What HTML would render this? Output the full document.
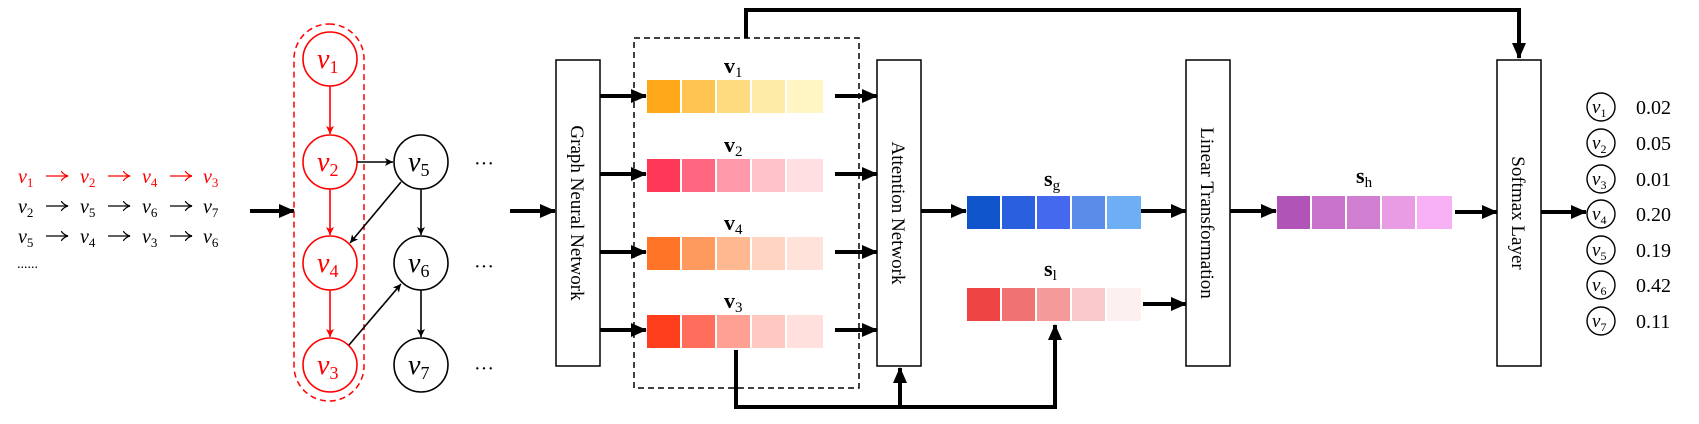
<!DOCTYPE html>
<html><head><meta charset="utf-8"><style>
html,body{margin:0;padding:0;background:#fff;}
svg{display:block;}
text{font-family:"Liberation Serif",serif;}
.v{font-style:italic;}
</style></head><body>
<svg width="1699" height="424" viewBox="0 0 1699 424" xmlns="http://www.w3.org/2000/svg">
<defs>
<marker id="ab" markerWidth="10" markerHeight="10" refX="9" refY="5" orient="auto" markerUnits="userSpaceOnUse"><path d="M0,0 L10,5 L0,10 Z" fill="#000"/></marker>
<marker id="as" markerWidth="8" markerHeight="8" refX="8" refY="4" orient="auto" markerUnits="userSpaceOnUse"><path d="M0,0 L8,4 L0,8 L2,4Z" fill="#000"/></marker>
<marker id="ar" markerWidth="8" markerHeight="8" refX="8" refY="4" orient="auto" markerUnits="userSpaceOnUse"><path d="M0,0 L8,4 L0,8 L2,4Z" fill="#f00"/></marker>
<marker id="sk" markerWidth="8" markerHeight="10" refX="7" refY="5" orient="auto" markerUnits="userSpaceOnUse"><path d="M0,0 Q3,4 7,5 Q3,6 0,10" fill="none" stroke="#000" stroke-width="1.2"/></marker>
<marker id="sr" markerWidth="8" markerHeight="10" refX="7" refY="5" orient="auto" markerUnits="userSpaceOnUse"><path d="M0,0 Q3,4 7,5 Q3,6 0,10" fill="none" stroke="#f00" stroke-width="1.2"/></marker>
<marker id="big" markerWidth="16" markerHeight="14" refX="15" refY="7" orient="auto" markerUnits="userSpaceOnUse"><path d="M0,0 L16,7 L0,14 Z" fill="#000"/></marker>
</defs>

<!-- sequences -->
<g font-size="20">
<g fill="#f00">
<text x="18" y="183" class="v">v<tspan font-size="13" dy="4" font-style="normal">1</tspan></text>
<text x="80" y="183" class="v">v<tspan font-size="13" dy="4" font-style="normal">2</tspan></text>
<text x="142" y="183" class="v">v<tspan font-size="13" dy="4" font-style="normal">4</tspan></text>
<text x="203" y="183" class="v">v<tspan font-size="13" dy="4" font-style="normal">3</tspan></text>
</g>
<g fill="#000">
<text x="18" y="213" class="v">v<tspan font-size="13" dy="4" font-style="normal">2</tspan></text>
<text x="80" y="213" class="v">v<tspan font-size="13" dy="4" font-style="normal">5</tspan></text>
<text x="142" y="213" class="v">v<tspan font-size="13" dy="4" font-style="normal">6</tspan></text>
<text x="203" y="213" class="v">v<tspan font-size="13" dy="4" font-style="normal">7</tspan></text>
<text x="18" y="243" class="v">v<tspan font-size="13" dy="4" font-style="normal">5</tspan></text>
<text x="80" y="243" class="v">v<tspan font-size="13" dy="4" font-style="normal">4</tspan></text>
<text x="142" y="243" class="v">v<tspan font-size="13" dy="4" font-style="normal">3</tspan></text>
<text x="203" y="243" class="v">v<tspan font-size="13" dy="4" font-style="normal">6</tspan></text>
<text x="17" y="268" font-size="14">......</text>
</g>
</g>
<g stroke-width="1.3">
<g stroke="#f00" marker-end="url(#sr)"><line x1="46" y1="176" x2="68" y2="176"/><line x1="108" y1="176" x2="130" y2="176"/><line x1="170" y1="176" x2="192" y2="176"/></g>
<g stroke="#000" marker-end="url(#sk)"><line x1="46" y1="206" x2="68" y2="206"/><line x1="108" y1="206" x2="130" y2="206"/><line x1="170" y1="206" x2="192" y2="206"/>
<line x1="46" y1="236" x2="68" y2="236"/><line x1="108" y1="236" x2="130" y2="236"/><line x1="170" y1="236" x2="192" y2="236"/></g>
</g>

<line x1="250" y1="211" x2="294" y2="211" stroke="#000" stroke-width="4" marker-end="url(#big)"/>

<!-- graph -->
<rect x="294" y="24" width="70" height="377" rx="35" fill="none" stroke="#f00" stroke-width="1.5" stroke-dasharray="6,4"/>
<g fill="none" stroke="#f00" stroke-width="1.6">
<circle cx="330" cy="59" r="27"/><circle cx="330" cy="162" r="27"/><circle cx="330" cy="263" r="27"/><circle cx="330" cy="365" r="27"/>
<line x1="330" y1="86" x2="330" y2="134" marker-end="url(#ar)"/>
<line x1="330" y1="189" x2="330" y2="235" marker-end="url(#ar)"/>
<line x1="330" y1="290" x2="330" y2="337" marker-end="url(#ar)"/>
</g>
<g fill="none" stroke="#000" stroke-width="1.6">
<circle cx="421" cy="162" r="27"/><circle cx="421" cy="263" r="27"/><circle cx="421" cy="365" r="27"/>
<line x1="357" y1="162" x2="393" y2="162" marker-end="url(#as)"/>
<line x1="401" y1="182" x2="350" y2="243" marker-end="url(#as)"/>
<line x1="421" y1="189" x2="421" y2="235" marker-end="url(#as)"/>
<line x1="421" y1="290" x2="421" y2="337" marker-end="url(#as)"/>
<line x1="349" y1="345" x2="401" y2="284" marker-end="url(#as)"/>
</g>
<g font-size="28">
<g fill="#f00">
<text x="317" y="68" class="v">v<tspan font-size="18" dy="5" font-style="normal">1</tspan></text>
<text x="317" y="171" class="v">v<tspan font-size="18" dy="5" font-style="normal">2</tspan></text>
<text x="317" y="272" class="v">v<tspan font-size="18" dy="5" font-style="normal">4</tspan></text>
<text x="317" y="374" class="v">v<tspan font-size="18" dy="5" font-style="normal">3</tspan></text>
</g>
<text x="408" y="171" class="v">v<tspan font-size="18" dy="5" font-style="normal">5</tspan></text>
<text x="408" y="272" class="v">v<tspan font-size="18" dy="5" font-style="normal">6</tspan></text>
<text x="408" y="374" class="v">v<tspan font-size="18" dy="5" font-style="normal">7</tspan></text>
</g>
<g font-size="20"><text x="474" y="170">···</text><text x="474" y="273">···</text><text x="474" y="375">···</text></g>

<line x1="510" y1="211" x2="555" y2="211" stroke="#000" stroke-width="4" marker-end="url(#big)"/>

<!-- top and bottom connectors -->
<polyline points="746,38 746,10 1519,10 1519,58" fill="none" stroke="#000" stroke-width="4" marker-end="url(#big)"/>
<polyline points="736,350 736,407 1055,407 1055,325" fill="none" stroke="#000" stroke-width="4" marker-end="url(#big)"/>
<line x1="900" y1="407" x2="900" y2="368" stroke="#000" stroke-width="4" marker-end="url(#big)"/>

<!-- boxes -->
<g fill="#fff" stroke="#000" stroke-width="1.5">
<rect x="556" y="60" width="44" height="306"/>
<rect x="877" y="60" width="44" height="306"/>
<rect x="1186" y="60" width="44" height="306"/>
<rect x="1497" y="60" width="44" height="306"/>
</g>
<rect x="634" y="38" width="225" height="350" fill="none" stroke="#000" stroke-width="1.5" stroke-dasharray="6,4"/>
<g font-size="19">
<text transform="translate(571,213) rotate(90)" text-anchor="middle">Graph Neural Network</text>
<text transform="translate(892,213) rotate(90)" text-anchor="middle">Attention Network</text>
<text transform="translate(1201,213) rotate(90)" text-anchor="middle">Linear Transformation</text>
<text transform="translate(1512,213) rotate(90)" text-anchor="middle">Softmax Layer</text>
</g>

<!-- bars -->
<g>
<rect x="647" y="80" width="33" height="33" fill="#ffa81a"/><rect x="682" y="80" width="33" height="33" fill="#ffc350"/><rect x="717" y="80" width="33" height="33" fill="#ffdb80"/><rect x="752" y="80" width="33" height="33" fill="#ffeba8"/><rect x="787" y="80" width="36" height="33" fill="#fff6c4"/>
<rect x="647" y="159" width="33" height="33" fill="#ff3858"/><rect x="682" y="159" width="33" height="33" fill="#ff6680"/><rect x="717" y="159" width="33" height="33" fill="#ff98a8"/><rect x="752" y="159" width="33" height="33" fill="#ffc2ca"/><rect x="787" y="159" width="36" height="33" fill="#ffdfe2"/>
<rect x="647" y="237" width="33" height="33" fill="#ff7426"/><rect x="682" y="237" width="33" height="33" fill="#ff9a5e"/><rect x="717" y="237" width="33" height="33" fill="#ffb890"/><rect x="752" y="237" width="33" height="33" fill="#ffd4c2"/><rect x="787" y="237" width="36" height="33" fill="#ffe2da"/>
<rect x="647" y="315" width="33" height="33" fill="#ff3e1e"/><rect x="682" y="315" width="33" height="33" fill="#ff6e5c"/><rect x="717" y="315" width="33" height="33" fill="#ffa092"/><rect x="752" y="315" width="33" height="33" fill="#ffc8c0"/><rect x="787" y="315" width="36" height="33" fill="#ffe0dc"/>
<rect x="967" y="196" width="33" height="33" fill="#1155cc"/><rect x="1002" y="196" width="33" height="33" fill="#2a60dd"/><rect x="1037" y="196" width="33" height="33" fill="#4468ee"/><rect x="1072" y="196" width="33" height="33" fill="#5a8cea"/><rect x="1107" y="196" width="34" height="33" fill="#6eaef5"/>
<rect x="967" y="288" width="33" height="33" fill="#ee4444"/><rect x="1002" y="288" width="33" height="33" fill="#f07272"/><rect x="1037" y="288" width="33" height="33" fill="#f49a9a"/><rect x="1072" y="288" width="33" height="33" fill="#f9c8c8"/><rect x="1107" y="288" width="34" height="33" fill="#fdf0f0"/>
<rect x="1277" y="196" width="33" height="33" fill="#b054b8"/><rect x="1312" y="196" width="33" height="33" fill="#c872cc"/><rect x="1347" y="196" width="33" height="33" fill="#d07ed0"/><rect x="1382" y="196" width="33" height="33" fill="#e89ce4"/><rect x="1417" y="196" width="35" height="33" fill="#f8b0f4"/>
</g>
<g font-size="22" font-weight="bold">
<text x="724" y="73">v<tspan font-size="15" font-weight="normal" dy="4">1</tspan></text>
<text x="724" y="152">v<tspan font-size="15" font-weight="normal" dy="4">2</tspan></text>
<text x="724" y="230">v<tspan font-size="15" font-weight="normal" dy="4">4</tspan></text>
<text x="724" y="308">v<tspan font-size="15" font-weight="normal" dy="4">3</tspan></text>
<text x="1044" y="186">s<tspan font-size="15" font-weight="normal" dy="4">g</tspan></text>
<text x="1044" y="276">s<tspan font-size="15" font-weight="normal" dy="4">l</tspan></text>
<text x="1356" y="183">s<tspan font-size="15" font-weight="normal" dy="4">h</tspan></text>
</g>

<!-- arrows -->
<g stroke="#000" stroke-width="4" marker-end="url(#big)">
<line x1="600" y1="96" x2="646" y2="96"/><line x1="600" y1="174" x2="646" y2="174"/><line x1="600" y1="252" x2="646" y2="252"/><line x1="600" y1="330" x2="646" y2="330"/>
<line x1="835" y1="96" x2="877" y2="96"/><line x1="835" y1="174" x2="877" y2="174"/><line x1="835" y1="252" x2="877" y2="252"/><line x1="835" y1="330" x2="877" y2="330"/>
<line x1="921" y1="211" x2="966" y2="211"/>
<line x1="1141" y1="211" x2="1186" y2="211"/>
<line x1="1143" y1="304" x2="1186" y2="304"/>
<line x1="1230" y1="211" x2="1276" y2="211"/>
<line x1="1455" y1="212" x2="1497" y2="212"/>
<line x1="1541" y1="212" x2="1586" y2="212"/>
</g>

<!-- outputs -->
<g fill="none" stroke="#000" stroke-width="1.4">
<circle cx="1601" cy="107" r="14"/><circle cx="1601" cy="143" r="14"/><circle cx="1601" cy="179" r="14"/><circle cx="1601" cy="214" r="14"/><circle cx="1601" cy="250" r="14"/><circle cx="1601" cy="285" r="14"/><circle cx="1601" cy="321" r="14"/>
</g>
<g font-size="19">
<text x="1592" y="113" class="v">v<tspan font-size="12" dy="4" font-style="normal">1</tspan></text>
<text x="1592" y="149" class="v">v<tspan font-size="12" dy="4" font-style="normal">2</tspan></text>
<text x="1592" y="185" class="v">v<tspan font-size="12" dy="4" font-style="normal">3</tspan></text>
<text x="1592" y="220" class="v">v<tspan font-size="12" dy="4" font-style="normal">4</tspan></text>
<text x="1592" y="256" class="v">v<tspan font-size="12" dy="4" font-style="normal">5</tspan></text>
<text x="1592" y="291" class="v">v<tspan font-size="12" dy="4" font-style="normal">6</tspan></text>
<text x="1592" y="327" class="v">v<tspan font-size="12" dy="4" font-style="normal">7</tspan></text>
</g>
<g font-size="20">
<text x="1636" y="114">0.02</text><text x="1636" y="150">0.05</text><text x="1636" y="186">0.01</text><text x="1636" y="221">0.20</text><text x="1636" y="257">0.19</text><text x="1636" y="292">0.42</text><text x="1636" y="328">0.11</text>
</g>
</svg>
</body></html>
